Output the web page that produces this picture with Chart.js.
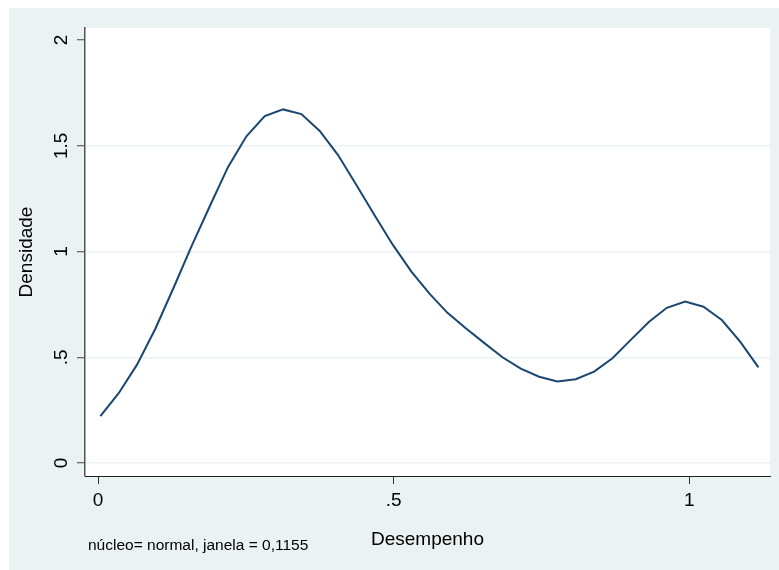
<!DOCTYPE html>
<html lang="pt">
<head>
    <meta charset="UTF-8">
    <title>Densidade - Desempenho</title>
    <script src="https://cdn.jsdelivr.net/npm/chart.js"></script>
    <style>
        html, body { margin: 0; padding: 0; background: #ffffff; }
        canvas { display: block; }
    </style>
</head>
<body>
    <canvas id="chart" width="779" height="570"></canvas>
    <script>
        // kernel density estimate
        const xValues = [0.004, 0.035, 0.066, 0.097, 0.128, 0.159, 0.190, 0.220, 0.251, 0.282,
                         0.313, 0.344, 0.375, 0.406, 0.437, 0.468, 0.499, 0.530, 0.561, 0.591,
                         0.622, 0.653, 0.684, 0.715, 0.746, 0.777, 0.808, 0.839, 0.870, 0.901,
                         0.932, 0.962, 0.993, 1.024, 1.055, 1.086, 1.117];
        const yValues = [0.222, 0.330, 0.465, 0.635, 0.830, 1.030, 1.220, 1.400, 1.545, 1.640,
                         1.672, 1.650, 1.570, 1.456, 1.315, 1.170, 1.030, 0.905, 0.800, 0.710,
                         0.637, 0.568, 0.500, 0.446, 0.408, 0.385, 0.396, 0.432, 0.495, 0.582,
                         0.668, 0.734, 0.763, 0.739, 0.676, 0.574, 0.452];

        const xTicks = [0, 0.5, 1];
        const xTickLabels = ['0', '.5', '1'];
        const yTicks = [0, 0.5, 1, 1.5, 2];
        const yTickLabels = ['0', '.5', '1', '1.5', '2'];

        const xTitle = 'Desempenho';
        const yTitle = 'Densidade';
        const note = 'núcleo= normal, janela = 0,1155';

        const FONT = 'Liberation Sans, Arial, sans-serif';
        const BG = '#eaf2f3';

        // page background, plot region, rotated y labels and the note
        const stataLook = {
            id: 'stataLook',
            beforeDraw(chart) {
                const ctx = chart.ctx;
                const a = chart.chartArea;
                ctx.save();
                ctx.fillStyle = '#ffffff';
                ctx.fillRect(0, 0, chart.width, chart.height);
                ctx.fillStyle = BG;
                ctx.fillRect(9, 8, chart.width - 9, chart.height - 8);
                ctx.fillStyle = '#ffffff';
                ctx.fillRect(a.left, a.top, a.right - a.left, a.bottom - a.top);
                ctx.restore();
            },
            afterDraw(chart) {
                const ctx = chart.ctx;
                const ys = chart.scales.y;
                ctx.save();
                ctx.fillStyle = '#000000';
                ctx.font = '19px ' + FONT;
                ctx.textAlign = 'center';
                ctx.textBaseline = 'middle';
                yTicks.forEach((v, i) => {
                    const py = ys.getPixelForValue(v);
                    ctx.save();
                    ctx.translate(62, py);
                    ctx.rotate(-Math.PI / 2);
                    ctx.fillText(yTickLabels[i], 0, 0);
                    ctx.restore();
                });
                ctx.font = '15.5px ' + FONT;
                ctx.textAlign = 'left';
                ctx.textBaseline = 'alphabetic';
                ctx.fillText(note, 88, 550);
                ctx.restore();
            }
        };

        const ctx = document.getElementById('chart').getContext('2d');
        new Chart(ctx, {
            type: 'line',
            data: {
                datasets: [{
                    data: xValues.map((x, i) => ({ x: x, y: yValues[i] })),
                    borderColor: '#1a476f',
                    borderWidth: 2,
                    pointRadius: 0,
                    tension: 0,
                    fill: false
                }]
            },
            options: {
                responsive: false,
                animation: false,
                devicePixelRatio: 1,
                layout: { padding: { top: 28, right: 9, left: 0, bottom: 0 } },
                plugins: {
                    legend: { display: false },
                    tooltip: { enabled: false }
                },
                scales: {
                    x: {
                        type: 'linear',
                        min: -0.022,
                        max: 1.1365,
                        afterBuildTicks: s => { s.ticks = xTicks.map(v => ({ value: v })); },
                        afterFit: s => { s.height = 94; },
                        ticks: {
                            color: '#000000',
                            font: { family: FONT, size: 19 },
                            padding: 5,
                            maxRotation: 0,
                            callback: (v) => xTickLabels[xTicks.indexOf(v)]
                        },
                        grid: {
                            drawOnChartArea: false,
                            drawTicks: true,
                            tickLength: 8,
                            tickColor: '#333333',
                            tickWidth: 1
                        },
                        border: { display: true, color: '#222222', width: 1 },
                        title: {
                            display: true,
                            text: xTitle,
                            color: '#000000',
                            font: { family: FONT, size: 19 },
                            padding: { top: 0, bottom: 18.6 }
                        }
                    },
                    y: {
                        type: 'linear',
                        min: -0.0615,
                        max: 2.057,
                        afterBuildTicks: s => { s.ticks = yTicks.map(v => ({ value: v })); },
                        afterFit: s => { s.width = 85; },
                        ticks: { display: false },
                        grid: {
                            color: c => (c.tick && c.tick.value === 2) ? 'rgba(0,0,0,0)' : BG,
                            lineWidth: 1.5,
                            drawTicks: true,
                            tickLength: 8,
                            tickColor: '#444444',
                            tickWidth: 1
                        },
                        border: { display: true, color: '#555555', width: 1.5 },
                        title: {
                            display: true,
                            text: yTitle,
                            color: '#000000',
                            font: { family: FONT, size: 19 },
                            padding: { top: 15.6, bottom: 0 }
                        }
                    }
                }
            },
            plugins: [stataLook]
        });
    </script>
</body>
</html>
